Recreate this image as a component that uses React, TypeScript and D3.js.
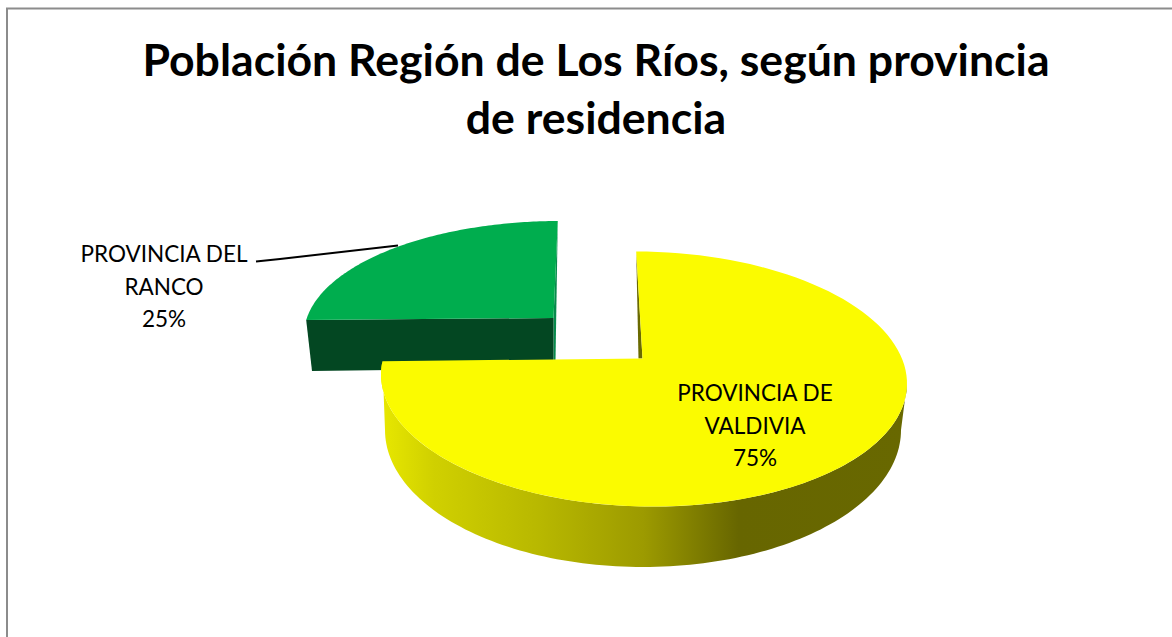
import React from "react";
import * as d3 from "d3";

const titleLines = ["Población Región de Los Ríos, según provincia", "de residencia"];
const categories = ["PROVINCIA DE VALDIVIA", "PROVINCIA DEL RANCO"];
const shares = [75, 25];
const valdiviaLabel = ["PROVINCIA DE", "VALDIVIA", "75%"];
const rancoLabel = ["PROVINCIA DEL", "RANCO", "25%"];
const FONT = "Lato, Carlito, Calibri, sans-serif";

const rad = (d: number) => (d * Math.PI) / 180;
type E = { cx: number; cy: number; rx: number; ry: number; sk: number };
const pt = (e: E, t: number): [number, number] => [
  e.cx + e.rx * Math.sin(t),
  e.cy - e.ry * Math.cos(t) + e.sk * Math.sin(t),
];
const line = d3.line<[number, number]>();
const sample = (e: E, a: number, b: number) =>
  d3.range(0, 121).map((i) => pt(e, a + ((b - a) * i) / 120));

export default function App() {
  const arcs = d3.pie<number>().sort(null).value((d) => d)(shares);
  const [yellow, green] = arcs;

  // perspective correction from pie angle to the screen ellipse parameter
  const yTheta = d3.scaleLinear().domain([yellow.startAngle, yellow.endAngle]).range([rad(-1.7), rad(276)]);
  const gTheta = d3.scaleLinear().domain([green.startAngle, green.endAngle]).range([rad(270 + 7.5), rad(359.5)]);

  const yTop: E = { cx: 644, cy: 379, rx: 263, ry: 127.5, sk: 4.5 };
  const yBot: E = { cx: 643, cy: 430, rx: 258, ry: 137, sk: 0 };
  const gTop: E = { cx: 560, cy: 335, rx: 256, ry: 114, sk: 0 };
  const yApex: [number, number] = [642.5, 358.5];
  const gApex: [number, number] = [553.5, 318];

  const t0 = yTheta(yellow.startAngle);
  const t1 = yTheta(yellow.endAngle);
  const yFace = line([yApex, ...sample(yTop, t0, t1)]) + "Z";
  const yWall =
    line([...sample(yTop, t1, rad(90)), ...sample(yBot, rad(90), rad(270))]) + "Z";
  const yInner = line([pt(yTop, t0), [638.5, 358.5], yApex]) + "Z";

  const g0 = gTheta(green.startAngle);
  const g1 = gTheta(green.endAngle);
  const gFace = line([gApex, ...sample(gTop, g0, g1)]) + "Z";
  const gLeft = pt(gTop, g0);
  const gTopPt = pt(gTop, g1);
  const gWall = line([gLeft, gApex, [553.5, 368], [312, 371]]) + "Z";
  const gInner = line([gTopPt, gApex, [553.5, 361], [555.5, 361]]) + "Z";

  return (
    <svg
      width={1172}
      height={637}
      style={{ position: "absolute", left: 0, top: 0, background: "#fff" }}
      aria-label={categories.join(", ")}
    >
      <defs>
        <linearGradient id="wall" gradientUnits="userSpaceOnUse" x1={381} x2={907} y1={0} y2={0}>
          <stop offset="0" stopColor="#e8e800" />
          <stop offset="0.1" stopColor="#d0d000" />
          <stop offset="0.3" stopColor="#b8b800" />
          <stop offset="0.5" stopColor="#9c9a00" />
          <stop offset="0.68" stopColor="#676600" />
          <stop offset="1" stopColor="#686800" />
        </linearGradient>
      </defs>
      <path d="M7 637V8.5H1172" fill="none" stroke="#8c8c8c" strokeWidth={2} />
      <g fontFamily={FONT} fontWeight={700} fontSize={44.6} textAnchor="middle" fill="#000">
        {titleLines.map((t, i) => (
          <text key={t} x={596} y={76 + i * 58}>{t}</text>
        ))}
      </g>
      <path d={gInner} fill="#078a4c" />
      <path d={gWall} fill="#034722" />
      <path d={gFace} fill="#00ad4e" />
      <path d={yWall} fill="url(#wall)" />
      <path d={yInner} fill="#6a6a00" />
      <path d={yFace} fill="#fbfb00" />
      <path d={line([[256, 261.5], [280, 259], [398, 245.5]]) ?? ""} fill="none" stroke="#000" strokeWidth={2} />
      <g fontFamily={FONT} fontSize={22.5} textAnchor="middle" fill="#000">
        {valdiviaLabel.map((t, i) => (
          <text key={t} x={755} y={401 + i * 32.5}>{t}</text>
        ))}
        {rancoLabel.map((t, i) => (
          <text key={t} x={164} y={262 + i * 32.5}>{t}</text>
        ))}
      </g>
    </svg>
  );
}
